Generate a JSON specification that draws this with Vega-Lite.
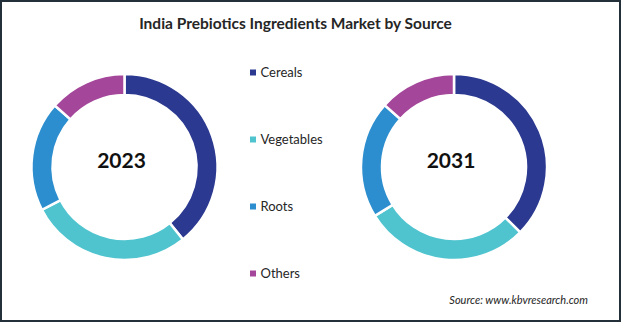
{
  "$schema": "https://vega.github.io/schema/vega-lite/v6.json",
  "width": 621,
  "height": 322,
  "autosize": {"type": "fit", "contains": "padding"},
  "padding": 0,
  "background": "white",
  "title": {
    "text": "India Prebiotics Ingredients Market by Source",
    "anchor": "middle",
    "orient": "top",
    "frame": "group",
    "offset": -44,
    "baseline": "alphabetic",
    "dx": -15,
    "font": "Lato",
    "fontSize": 15.5,
    "fontWeight": "bold",
    "color": "#262626"
  },
  "datasets": {
    "shares": [
      {"year": "2023", "source": "Cereals", "share": 39.2, "rank": 1},
      {"year": "2023", "source": "Vegetables", "share": 28.2, "rank": 2},
      {"year": "2023", "source": "Roots", "share": 19.1, "rank": 3},
      {"year": "2023", "source": "Others", "share": 13.5, "rank": 4},
      {"year": "2031", "source": "Cereals", "share": 37.4, "rank": 1},
      {"year": "2031", "source": "Vegetables", "share": 28.8, "rank": 2},
      {"year": "2031", "source": "Roots", "share": 20.4, "rank": 3},
      {"year": "2031", "source": "Others", "share": 13.4, "rank": 4}
    ],
    "years": [{"year": "2023"}, {"year": "2031"}],
    "note": [{"text": "Source: www.kbvresearch.com"}]
  },
  "layer": [
    {
      "data": {"name": "shares"},
      "transform": [{"filter": "datum.year === '2023'"}],
      "mark": {"type": "arc", "outerRadius": 93, "innerRadius": 72, "stroke": "white", "strokeWidth": 2.5},
      "encoding": {
        "theta": {"field": "share", "type": "quantitative", "stack": true, "scale": {"domain": [0, 100]}},
        "order": {"field": "rank", "type": "quantitative"},
        "x": {"field": "year", "type": "nominal", "scale": {"type": "point", "domain": ["2023", "2031"], "range": [124.5, 454], "padding": 0}, "axis": null},
        "y": {"field": "year", "type": "nominal", "scale": {"type": "point", "domain": ["2023", "2031"], "range": [167, 167], "padding": 0}, "axis": null},
        "color": {
          "field": "source",
          "type": "nominal",
          "scale": {"domain": ["Cereals", "Vegetables", "Roots", "Others"], "range": ["#2B3990", "#4FC4CF", "#2C8ECF", "#A4469A"]},
          "legend": {
            "title": null,
            "orient": "none",
            "legendX": 246.5,
            "legendY": 66,
            "padding": 0,
            "symbolType": "square",
            "symbolSize": 36,
            "symbolStrokeWidth": 0,
            "labelFont": "Lato",
            "labelFontSize": 13,
            "labelColor": "#262626",
            "labelOffset": 1,
            "rowPadding": 53
          }
        }
      }
    },
    {
      "data": {"name": "shares"},
      "transform": [{"filter": "datum.year === '2031'"}],
      "mark": {"type": "arc", "outerRadius": 93, "innerRadius": 72, "stroke": "white", "strokeWidth": 2.5},
      "encoding": {
        "theta": {"field": "share", "type": "quantitative", "stack": true, "scale": {"domain": [0, 100]}},
        "order": {"field": "rank", "type": "quantitative"},
        "x": {"field": "year", "type": "nominal"},
        "y": {"field": "year", "type": "nominal"},
        "color": {"field": "source", "type": "nominal"}
      }
    },
    {
      "data": {"name": "years"},
      "mark": {"type": "text", "font": "Lato", "fontSize": 21, "fontWeight": "bold", "color": "#111111", "baseline": "middle", "dx": -3, "dy": -5},
      "encoding": {
        "x": {"field": "year", "type": "nominal"},
        "y": {"field": "year", "type": "nominal"},
        "text": {"field": "year"}
      }
    },
    {
      "data": {"name": "note"},
      "mark": {"type": "text", "font": "Lato", "fontSize": 11, "fontStyle": "italic", "color": "#262626", "align": "right", "baseline": "middle"},
      "encoding": {
        "x": {"value": 588},
        "y": {"value": 301},
        "text": {"field": "text"}
      }
    }
  ],
  "config": {
    "view": {"stroke": "#23303A", "strokeWidth": 4}
  }
}
